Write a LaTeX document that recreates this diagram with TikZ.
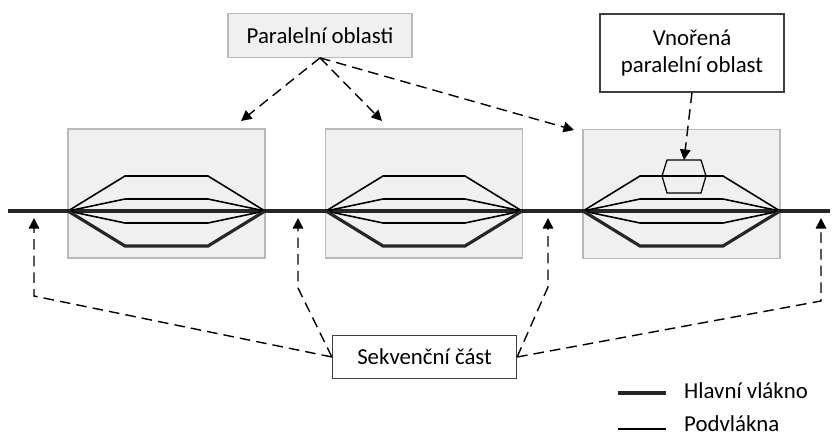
\documentclass[tikz,border=0pt]{standalone}
\usepackage{fontspec}
\setmainfont{Carlito}
\usetikzlibrary{arrows.meta,positioning}

\begin{document}
\begin{tikzpicture}[x=0.02cm,y=-0.02cm,
    region/.style={draw=gray!55,fill=gray!12,line width=0.6pt,inner sep=0pt,
      minimum width=3.94cm,minimum height=2.58cm},
    label/.style={draw=black!75,fill=white,line width=0.7pt,inner sep=0pt,
      font=\fontsize{13}{15.5}\selectfont,align=center,
      minimum width=3.68cm,minimum height=0.87cm},
    mainthread/.style={line width=1.8pt,black!85},
    subthread/.style={line width=0.9pt,black},
    pointer/.style={line width=0.8pt,dash pattern=on 6pt off 3.5pt,
      -{Triangle[length=6pt,width=6pt]}}]
  \useasboundingbox (0,0) rectangle (832,436);

  % Parallel regions
  \node[region] (r1) at (166.5,193.5) {};
  \node[region] (r2) at (424,193.5) {};
  \node[region] (r3) at (681.5,194) {};

  % Main thread
  \coordinate (start) at (8,211);
  \coordinate (end) at (830,211);
  \draw[mainthread] (start) -- (end);

  % Sub-threads forking and joining in each region
  \foreach \a/\b in {68/265, 326/522, 583/780} {
    \draw[subthread] (\a,211) -- (\a+57,176) -- (\b-57,176) -- (\b,211);
    \draw[subthread] (\a,211) -- (\a+57,199) -- (\b-57,199) -- (\b,211);
    \draw[subthread] (\a,211) -- (\a+57,223) -- (\b-57,223) -- (\b,211);
    \draw[mainthread] (\a,211) -- (\a+57,246) -- (\b-57,246) -- (\b,211);
  }

  % Nested region on the top sub-thread
  \draw[line width=0.7pt,black] (662,176) -- (667,160) -- (701,160)
    -- (706,176) -- (701,193) -- (667,193) -- cycle;
  \coordinate (nest) at (684,160);

  % Labels
  \node[label,draw=gray!55,fill=gray!12] (par) at (320,35.5) {Paralelní oblasti};
  \node[label,minimum height=1.56cm] (nested) at (692,53)
    {Vnořená\\paralelní oblast};
  \node[label] (seq) at (424.5,357) {Sekvenční část};

  % Pointers to the regions
  \coordinate (p1) at (241,121);
  \coordinate (p2) at (382,121);
  \coordinate (p3) at (574,130);
  \draw[pointer] (par.south) -- (p1);
  \draw[pointer] (par.south) -- (p2);
  \draw[pointer] (par.south) -- (p3);
  \draw[pointer] (nested.south) -- (nest);

  % Pointers to the sequential parts
  \draw[pointer] (seq.west) -- (34,296) -- (34,218);
  \draw[pointer] (seq.west) -- (298,288) -- (298,218);
  \draw[pointer] (seq.east) -- (548,287) -- (548,218);
  \draw[pointer] (seq.east) -- (821,301) -- (821,218);

  % Legend
  \draw[mainthread] (618,393) -- (666,393);
  \node[anchor=west,font=\fontsize{13}{15.5}\selectfont] (lmain) at (678,391) {Hlavní vlákno};
  \draw[subthread] (618,429) -- (666,429);
  \node[anchor=west,font=\fontsize{13}{15.5}\selectfont] (lsub) at (678,424) {Podvlákna};
\end{tikzpicture}
\end{document}
